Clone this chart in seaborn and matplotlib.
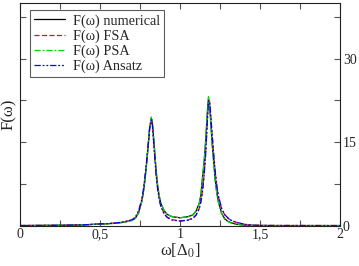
import numpy as np
import pandas as pd
import matplotlib
matplotlib.use("Agg")
import matplotlib.pyplot as plt
from matplotlib.ticker import MultipleLocator, FuncFormatter
import seaborn as sns

# omega grid (in units of Delta_0) and the four spectra
omega = [0.0, 0.1, 0.2, 0.3, 0.4, 0.45, 0.5, 0.55, 0.6, 0.65, 0.7, 0.72, 0.74,
         0.76, 0.77, 0.78, 0.79, 0.80, 0.81, 0.82, 0.825, 0.83, 0.84, 0.85,
         0.86, 0.87, 0.88, 0.9, 0.92, 0.95, 1.0, 1.05, 1.08, 1.1, 1.12, 1.13,
         1.14, 1.15, 1.16, 1.17, 1.178, 1.185, 1.19, 1.2, 1.21, 1.22, 1.23,
         1.24, 1.26, 1.28, 1.3, 1.32, 1.35, 1.4, 1.45, 1.5, 1.6, 2.0]

f_numerical = [0.0, 0.02, 0.04, 0.07, 0.12, 0.2, 0.28, 0.33, 0.42, 0.6, 0.95, 1.3, 2.2,
               4.2, 5.8, 8.0, 10.8, 14.0, 17.4, 19.2, 19.0, 17.5, 13.8, 10.0,
               7.2, 5.3, 4.0, 2.7, 2.0, 1.6, 1.4, 1.6, 1.9, 2.6, 4.0, 5.4,
               8.5, 11.2, 15.0, 20.0, 22.9, 21.5, 19.5, 15.0, 11.5, 8.2, 5.9,
               4.3, 2.2, 1.2, 0.75, 0.5, 0.25, 0.08, 0.03, 0.01, 0.0, 0.0]

f_fsa = [0.0, 0.02, 0.04, 0.07, 0.13, 0.22, 0.3, 0.36, 0.46, 0.65, 1.0, 1.4, 2.4,
         4.4, 6.0, 8.3, 11.0, 14.2, 17.5, 19.1, 18.8, 17.2, 13.2, 9.4,
         6.6, 4.8, 3.5, 2.2, 1.5, 1.05, 0.85, 1.0, 1.35, 1.9, 3.1, 4.3,
         6.2, 9.0, 13.0, 18.5, 22.6, 22.3, 20.5, 16.5, 12.8, 9.5, 7.0,
         5.2, 3.0, 1.9, 1.3, 0.9, 0.6, 0.25, 0.08, 0.03, 0.01, 0.0]

f_psa = [0.0, 0.02, 0.04, 0.07, 0.12, 0.2, 0.27, 0.32, 0.41, 0.58, 0.92, 1.28, 2.2,
         4.3, 5.9, 8.2, 11.0, 14.3, 17.7, 19.5, 19.2, 17.6, 13.9, 10.1,
         7.2, 5.3, 4.0, 2.7, 2.0, 1.6, 1.4, 1.6, 1.9, 2.6, 4.0, 5.5,
         8.6, 11.4, 15.3, 20.3, 23.2, 21.6, 19.4, 14.8, 11.3, 8.0, 5.7,
         4.1, 2.1, 1.1, 0.7, 0.45, 0.22, 0.07, 0.03, 0.01, 0.0, 0.0]

f_ansatz = [0.0, 0.02, 0.04, 0.07, 0.13, 0.22, 0.3, 0.36, 0.47, 0.67, 1.05, 1.5, 2.6,
            4.6, 6.3, 8.6, 11.3, 14.4, 17.5, 19.0, 18.7, 17.0, 13.0, 9.2,
            6.5, 4.7, 3.4, 2.1, 1.45, 1.0, 0.8, 0.95, 1.3, 1.85, 3.0, 4.2,
            6.0, 8.8, 12.7, 18.2, 22.4, 22.2, 20.6, 16.7, 13.0, 9.7, 7.2,
            5.3, 3.1, 1.95, 1.35, 0.95, 0.6, 0.25, 0.08, 0.03, 0.01, 0.0]

labels = ["F(ω) numerical", "F(ω) FSA", "F(ω) PSA", "F(ω) Ansatz"]
colors = ["black", "#ff0000", "#00dd00", "#0000ff"]
dash_styles = ["", (4, 2), (5, 1.5, 1.5, 1.5), (5, 1.5, 1.5, 1.5, 1.5, 1.5)]

frames = []
for lab, vals in zip(labels, [f_numerical, f_fsa, f_psa, f_ansatz]):
    frames.append(pd.DataFrame({"omega": omega, "F": vals, "curve": lab}))
df = pd.concat(frames, ignore_index=True)

sns.set_style("ticks")
plt.rcParams["font.family"] = ["Liberation Serif", "DejaVu Serif"]
plt.rcParams["mathtext.fontset"] = "stix"

fig = plt.figure(figsize=(3.59, 2.66), dpi=100)
ax = fig.add_axes([0.056, 0.152, 0.891, 0.837])

sns.lineplot(data=df, x="omega", y="F", hue="curve", style="curve",
             hue_order=labels, style_order=labels,
             palette=dict(zip(labels, colors)),
             dashes=dict(zip(labels, dash_styles)),
             linewidth=0.9, ax=ax, legend=True, sort=False)

ax.set_xlim(0, 2)
ax.set_ylim(0, 40)
ax.xaxis.set_major_locator(MultipleLocator(0.5))
ax.xaxis.set_minor_locator(MultipleLocator(0.25))
ax.yaxis.set_major_locator(MultipleLocator(15))
ax.yaxis.set_minor_locator(MultipleLocator(7.5))
ax.xaxis.set_major_formatter(FuncFormatter(lambda v, p: ("%g" % v).replace(".", ",")))
ax.tick_params(which="both", direction="in", top=True, right=True,
               labelleft=False, labelright=True, labelsize=10, pad=2,
               color="#555555", width=0.8)
ax.tick_params(which="major", length=4)
ax.tick_params(which="minor", length=4)
for s in ax.spines.values():
    s.set_linewidth(0.8)
    s.set_color("#222222")

ax.set_xlabel(r"ω[Δ$_0$]", fontsize=12, labelpad=0)
ax.set_ylabel("F(ω)", fontsize=12, labelpad=2)

handles, labs = ax.get_legend_handles_labels()
leg = ax.legend(handles, labs, loc="upper left", bbox_to_anchor=(0.031, 0.968),
                fontsize=10.3, frameon=True, fancybox=False, edgecolor="#333333",
                handlelength=2.2, handletextpad=0.5, labelspacing=0.12,
                borderpad=0.28, borderaxespad=0)
leg.get_frame().set_linewidth(0.8)

fig.savefig("out.png", dpi=100)
